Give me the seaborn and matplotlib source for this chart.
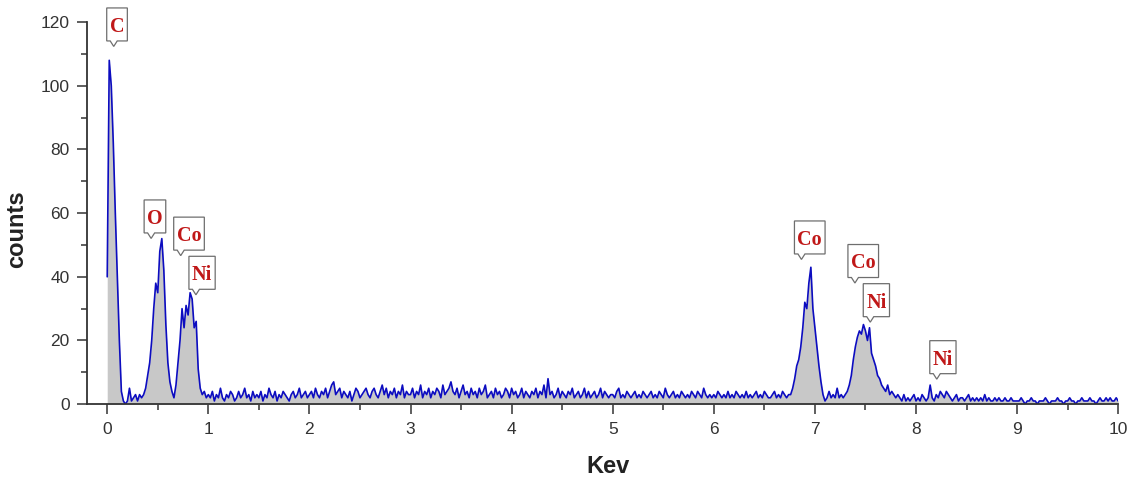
import numpy as np
import pandas as pd
import matplotlib
matplotlib.use("Agg")
import matplotlib.pyplot as plt
from matplotlib.ticker import MultipleLocator
from matplotlib.patches import Polygon
from matplotlib.transforms import IdentityTransform
import seaborn as sns

# --------------------
# Data: EDS spectrum, counts every 0.02 keV
# --------------------
STEP = 0.02
seg0 = [40, 108, 100, 82, 60, 40, 20, 4, 1, 0,
        1, 5, 1, 2, 3, 1, 3, 2, 3, 5,
        9, 13, 20, 30, 38, 35, 48, 52, 42, 25,
        13, 7, 4, 2, 6, 13, 20, 30, 24, 31,
        28, 35, 33, 24, 26, 11, 5, 3, 4, 2]
seg1 = [3, 2, 4, 1, 3, 2, 5, 2, 1, 3, 2, 4, 3, 1, 2, 4, 2, 3, 5, 2,
        3, 1, 4, 2, 3, 2, 4, 1, 3, 2, 5, 3, 2, 4, 1, 3, 2, 4, 3, 2,
        1, 3, 4, 2, 3, 5, 2, 3, 4, 2]
seg2 = [3, 4, 2, 5, 3, 2, 4, 3, 5, 2, 4, 6, 7, 3, 4, 5, 2, 4, 3, 2,
        4, 1, 3, 5, 4, 2, 3, 4, 5, 3, 2, 4, 5, 3, 2, 4, 6, 3, 5, 2,
        4, 3, 5, 2, 4, 3, 6, 2, 4, 3]
seg3 = [3, 5, 2, 4, 3, 6, 2, 4, 3, 5, 2, 4, 3, 5, 4, 2, 6, 3, 4, 5,
        7, 4, 3, 5, 2, 4, 6, 3, 4, 2, 5, 3, 4, 2, 5, 3, 4, 6, 2, 3,
        4, 2, 5, 3, 4, 2, 3, 5, 4, 2]
seg4 = [5, 3, 4, 2, 3, 5, 2, 4, 3, 2, 4, 3, 5, 2, 4, 3, 6, 2, 8, 3,
        4, 2, 3, 5, 2, 4, 3, 2, 4, 3, 5, 2, 3, 4, 2, 3, 5, 2, 4, 2,
        3, 4, 2, 3, 5, 2, 4, 3, 2, 3]
seg5 = [3, 2, 4, 5, 2, 3, 2, 4, 3, 2, 3, 4, 2, 3, 2, 4, 3, 2, 3, 4,
        2, 3, 2, 4, 3, 2, 5, 3, 2, 3, 4, 2, 3, 2, 4, 3, 2, 3, 2, 4,
        3, 2, 4, 3, 2, 5, 3, 2, 3, 2]
seg6 = [3, 2, 4, 3, 2, 3, 2, 4, 2, 3, 2, 4, 3, 2, 3, 2, 4, 2, 3, 2,
        3, 4, 2, 3, 2, 4, 3, 2, 2, 3, 4, 2, 3, 2, 4, 3, 2, 3,
        3, 5, 8, 12, 14, 18, 24, 32, 30, 38, 43, 30]
seg7 = [24, 18, 12, 7, 3, 1, 2, 4, 2, 3, 2, 5, 2, 3, 2, 3, 4, 6, 9, 14,
        18, 21, 23, 22, 25, 23, 20, 24, 16, 14, 12, 9, 8, 6, 5, 4, 6, 3, 4, 3,
        2, 3, 2, 1, 3, 1, 2, 1, 2, 3]
seg8 = [1, 2, 1, 3, 2, 1, 2, 6, 2, 1, 3, 2, 4, 3, 2, 4, 3, 2, 1, 2,
        3, 1, 2, 2, 1, 2, 3, 1, 2, 1, 2, 1, 2, 1, 3, 1, 2, 1, 1, 2,
        1, 2, 1, 1, 2, 1, 1, 2, 1, 1]
seg9 = [1, 1, 2, 1, 0, 1, 1, 2, 1, 1, 0, 1, 1, 1, 2, 1, 0, 1, 1, 1,
        2, 1, 1, 0, 1, 1, 2, 1, 1, 0, 1, 1, 2, 1, 1, 1, 2, 1, 1, 0,
        1, 2, 1, 1, 2, 1, 2, 1, 1, 2, 1]

# peak labels and the centre of their callout boxes (keV, counts)
labels = ["C", "O", "Co", "Ni", "Co", "Co", "Ni", "Ni"]
label_x = [0.097, 0.472, 0.809, 0.938, 6.949, 7.478, 7.608, 8.266]
label_y = [119.1, 58.8, 53.4, 41.1, 52.2, 44.8, 32.5, 14.6]

counts = np.array(seg0 + seg1 + seg2 + seg3 + seg4 + seg5 + seg6 + seg7 + seg8 + seg9, dtype=float)
df = pd.DataFrame({"kev": np.arange(len(counts)) * STEP, "counts": counts})

# --------------------
# Plot
# --------------------
sns.set_style("ticks")
plt.rcParams["font.family"] = ["Liberation Sans", "DejaVu Sans"]

fig = plt.figure(figsize=(11.27, 4.8), dpi=100)
ax = fig.add_axes([0.0772, 0.158, 0.915, 0.796])

ax.fill_between(df["kev"], 0, df["counts"], color="#c8c8c8", lw=0, zorder=1)
sns.lineplot(data=df, x="kev", y="counts", ax=ax, color="#0c0cc0", lw=1.2, zorder=2)

ax.set_xlim(-0.2, 10)
ax.set_ylim(0, 120)
ax.xaxis.set_major_locator(MultipleLocator(1))
ax.xaxis.set_minor_locator(MultipleLocator(0.5))
ax.yaxis.set_major_locator(MultipleLocator(20))
ax.yaxis.set_minor_locator(MultipleLocator(10))
ax.tick_params(which="major", length=7.5, width=1.1, color="#333333", labelsize=12.5,
               labelcolor="#333333", pad=5)
ax.tick_params(which="minor", length=4, width=1.1, color="#333333")
sns.despine(ax=ax)
for s in ["left", "bottom"]:
    ax.spines[s].set_color("#333333")
    ax.spines[s].set_linewidth(1.3)

ax.set_xlabel("Kev", fontsize=17, fontweight="bold", color="#222222")
ax.xaxis.set_label_coords(0.505, -0.133)
ax.set_ylabel("counts", fontsize=17, fontweight="bold", color="#222222")
ax.yaxis.set_label_coords(-0.057, 0.458)

# callout labels: box with a small notch pointing down at the peak
texts = []
for lab, lx, ly in zip(labels, label_x, label_y):
    t = ax.text(lx, ly - 0.6, lab, ha="center", va="center", fontsize=14.5, fontweight="bold",
                color="#c01818", family=["Liberation Serif", "DejaVu Serif"], zorder=6,
                clip_on=False)
    texts.append(t)

fig.canvas.draw()
renderer = fig.canvas.get_renderer()
for t, lx, ly in zip(texts, label_x, label_y):
    bb = t.get_window_extent(renderer)
    cx, cy = ax.transData.transform((lx, ly))
    x0, x1 = bb.x0 - 3, bb.x1 + 3
    y0, y1 = cy - 16, cy + 17
    verts = [(x0, y0), (x0, y1), (x1, y1), (x1, y0),
             (x0 + 10.5, y0), (x0 + 7, y0 - 5.5), (x0 + 3.5, y0)]
    box = Polygon(verts, closed=True, fc="white", ec="#6e6e6e", lw=0.9,
                  transform=IdentityTransform(), zorder=5, clip_on=False)
    ax.add_artist(box)

fig.savefig("out.png", dpi=100)
